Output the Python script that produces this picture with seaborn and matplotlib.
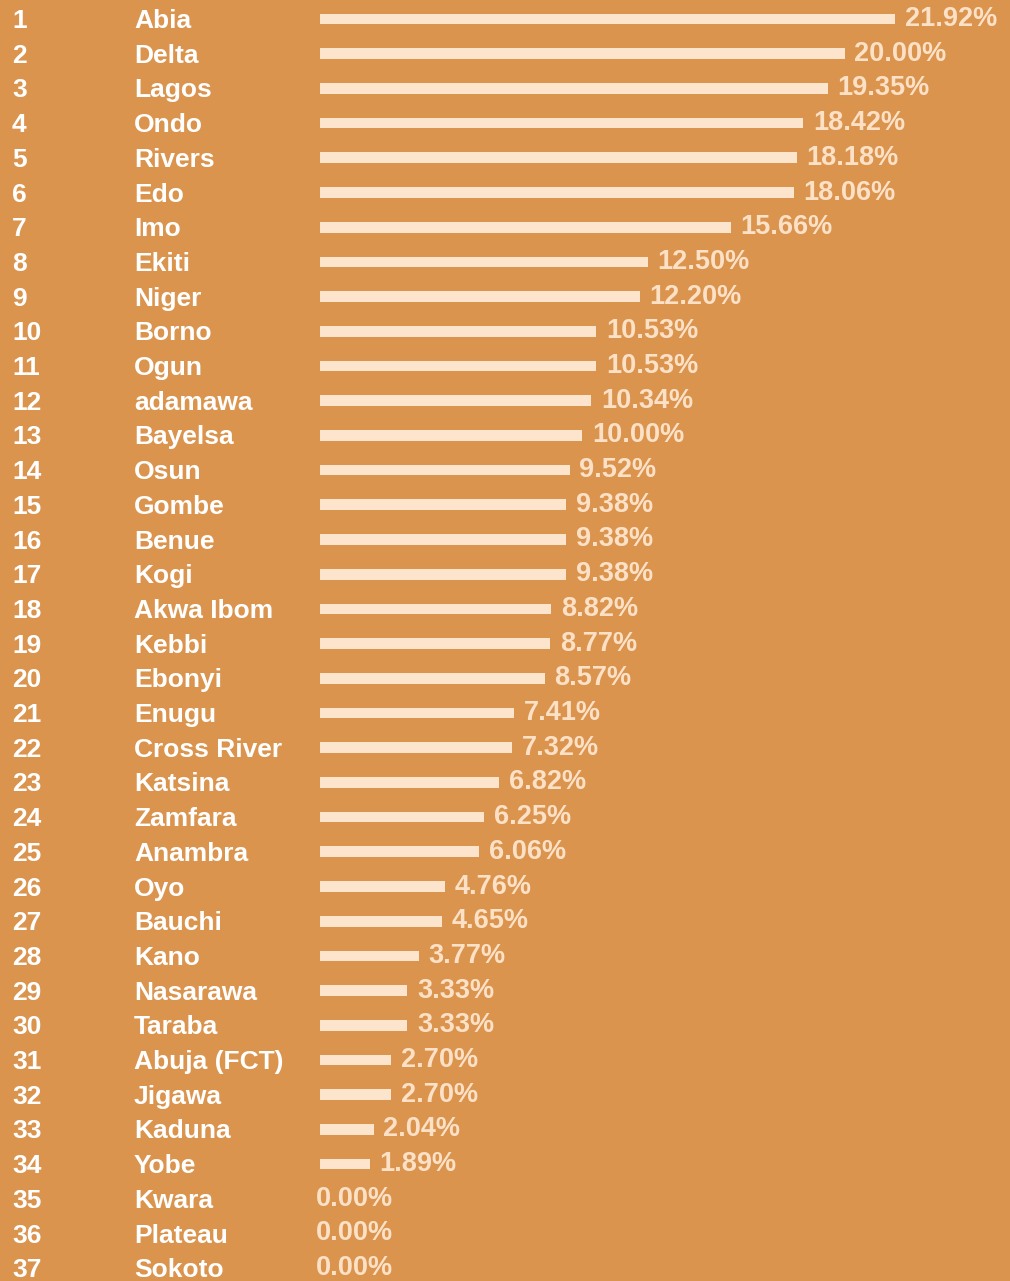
import matplotlib
matplotlib.use("Agg")
import matplotlib.pyplot as plt
import seaborn as sns
import pandas as pd

ranks = list(range(1, 38))
states = ["Abia", "Delta", "Lagos", "Ondo", "Rivers", "Edo", "Imo", "Ekiti", "Niger",
          "Borno", "Ogun", "adamawa", "Bayelsa", "Osun", "Gombe", "Benue", "Kogi",
          "Akwa Ibom", "Kebbi", "Ebonyi", "Enugu", "Cross River", "Katsina", "Zamfara",
          "Anambra", "Oyo", "Bauchi", "Kano", "Nasarawa", "Taraba", "Abuja (FCT)",
          "Jigawa", "Kaduna", "Yobe", "Kwara", "Plateau", "Sokoto"]
shares = [21.92, 20.00, 19.35, 18.42, 18.18, 18.06, 15.66, 12.50, 12.20,
          10.53, 10.53, 10.34, 10.00, 9.52, 9.38, 9.38, 9.38,
          8.82, 8.77, 8.57, 7.41, 7.32, 6.82, 6.25,
          6.06, 4.76, 4.65, 3.77, 3.33, 3.33, 2.70,
          2.70, 2.04, 1.89, 0.00, 0.00, 0.00]

BG = "#DB944E"
BAR = "#FDE4CC"
VAL = "#FCE1C7"

df = pd.DataFrame({"row": [str(r) for r in ranks], "state": states, "share": shares})

sns.set_theme(style="white")
plt.rcParams["font.family"] = ["Liberation Sans", "DejaVu Sans"]

W, H = 1010, 1281
fig = plt.figure(figsize=(W / 100, H / 100), dpi=100, facecolor=BG)
ax = fig.add_axes([0, 0, 1, 1])
ax.set_facecolor(BG)

sns.barplot(data=df, y="row", x="share", orient="h", color=BAR, width=0.31,
            saturation=1, linewidth=0, edgecolor="none", ax=ax, order=df["row"])

# pixel-based layout: bars start 320 px from the left, ~26.2 px per percent
px_per_unit = 575 / 21.92
x0 = 320
ax.set_xlim(-x0 / px_per_unit, (W - x0) / px_per_unit)
row_h = 34.7
top = 19
ax.set_ylim((H - top) / row_h, -top / row_h)
ax.axis("off")

fs_name = 19
fs_val = 19.5
for i, (r, s, v) in enumerate(zip(ranks, states, shares)):
    ax.annotate(str(r), xy=(12 / W, i), xycoords=ax.get_yaxis_transform(),
                xytext=(0, -1.5), textcoords="offset points", color="white",
                fontsize=fs_name, fontweight="bold", va="center", ha="left")
    ax.annotate(s, xy=(134 / W, i), xycoords=ax.get_yaxis_transform(),
                xytext=(0, -1.5), textcoords="offset points", color="white",
                fontsize=fs_name, fontweight="bold", va="center", ha="left")
    off = 7 if v > 0 else -3
    ax.annotate(f"{v:.2f}%", xy=(v, i), xytext=(off, 0), textcoords="offset points",
                color=VAL, fontsize=fs_val, fontweight="bold", va="center", ha="left")

fig.savefig("out.png", dpi=100, facecolor=BG)
